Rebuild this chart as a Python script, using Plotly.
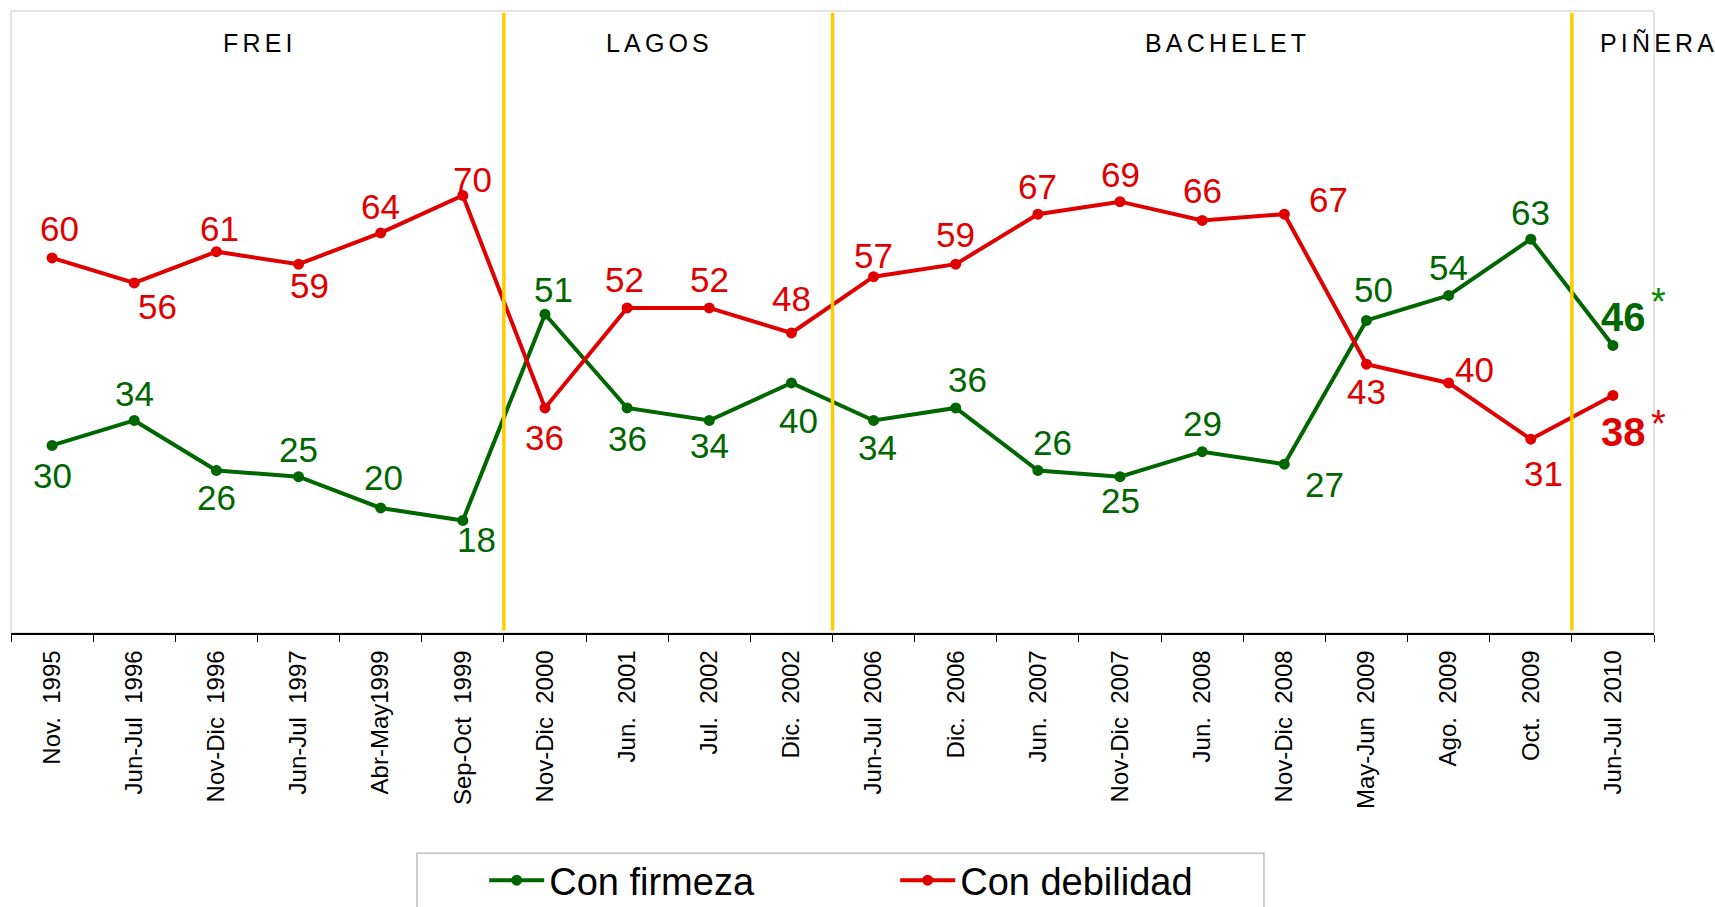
import plotly.graph_objects as go

# ---------------- data ----------------
categories = ["Nov.\u00a0 1995", "Jun-Jul\u00a0 1996", "Nov-Dic\u00a0 1996", "Jun-Jul\u00a0 1997",
              "Abr-May1999", "Sep-Oct\u00a0 1999", "Nov-Dic\u00a0 2000", "Jun.\u00a0 2001",
              "Jul.\u00a0 2002", "Dic.\u00a0 2002", "Jun-Jul\u00a0 2006", "Dic.\u00a0 2006",
              "Jun.\u00a0 2007", "Nov-Dic\u00a0 2007", "Jun.\u00a0 2008", "Nov-Dic\u00a0 2008",
              "May-Jun\u00a0 2009", "Ago.\u00a0 2009", "Oct.\u00a0 2009", "Jun-Jul\u00a0 2010"]
firmeza = [30, 34, 26, 25, 20, 18, 51, 36, 34, 40, 34, 36, 26, 25, 29, 27, 50, 54, 63, 46]
debilidad = [60, 56, 61, 59, 64, 70, 36, 52, 52, 48, 57, 59, 67, 69, 66, 67, 43, 40, 31, 38]
series_names = ["Con firmeza", "Con debilidad"]
periods = ["FREI", "LAGOS", "BACHELET", "PIÑERA"]
period_start_index = [0, 6, 10, 19]   # first survey of each presidency

# ---------------- styles ----------------
GREEN = "#006600"
GREEN_STAR = "#008C00"
RED = "#E00000"
GOLD = "#FFCC00"
FONT = "Liberation Sans, Arial, sans-serif"
SPACER = "\u2006"  # small letter spacing for the period titles

# label offsets in px (dx right, dy down) relative to each point
green_off = [(0, 30), (0, -27), (0, 27), (0, -27), (3, -30), (14, 19), (9, -25), (0, 31),
             (0, 25), (7, 38), (4, 27), (12, -28), (15, -28), (0, 24), (0, -28), (40, 20),
             (7, -31), (0, -28), (0, -27), (11, -28)]
red_off = [(7, -29), (23, 24), (3, -23), (11, 21), (0, -26), (10, -16), (0, 30), (-3, -28),
           (0, -28), (0, -34), (0, -21), (0, -30), (0, -28), (0, -27), (0, -30), (44, -15),
           (0, 27), (26, -13), (13, 34), (11, 37)]
star_off = {"green": (46, -43), "red": (46, 29)}
period_label_x = [2.5, 7.37, 14.28, 19.5]
period_label_shift = [0, 0, 0, 3]

fig = go.Figure()
fig.add_trace(go.Scatter(x=categories, y=firmeza, name=series_names[0], mode="lines+markers",
                         line=dict(color=GREEN, width=4), marker=dict(color=GREEN, size=11),
                         hoverinfo="x+y"))
fig.add_trace(go.Scatter(x=categories, y=debilidad, name=series_names[1], mode="lines+markers",
                         line=dict(color=RED, width=4), marker=dict(color=RED, size=11),
                         hoverinfo="x+y"))

annotations = []
last = len(categories) - 1
for vals, offs, col, key in [(firmeza, green_off, GREEN, "green"), (debilidad, red_off, RED, "red")]:
    for i, (c, v) in enumerate(zip(categories, vals)):
        dx, dy = offs[i]
        is_last = i == last
        txt = f"<b>{v}</b>" if is_last else str(v)
        annotations.append(dict(x=c, y=v, xref="x", yref="y", text=txt, showarrow=False,
                                xanchor="center", yanchor="middle", xshift=dx, yshift=-dy,
                                font=dict(family=FONT, size=40 if is_last else 35, color=col)))
    sx, sy = star_off[key]
    annotations.append(dict(x=categories[last], y=vals[last], xref="x", yref="y", text="*",
                            showarrow=False, xanchor="center", yanchor="middle",
                            xshift=sx, yshift=-sy,
                            font=dict(family=FONT, size=38,
                                      color=GREEN_STAR if key == "green" else RED)))

for name, px, sh in zip(periods, period_label_x, period_label_shift):
    annotations.append(dict(x=px, y=0.948, xref="x", yref="paper", text=SPACER.join(name),
                            showarrow=False, xanchor="center", yanchor="middle", xshift=sh,
                            font=dict(family=FONT, size=25, color="#000000")))

shapes = [dict(type="rect", xref="paper", yref="paper", x0=0, x1=1, y0=0, y1=1,
               line=dict(color="#C8C8C8", width=1), layer="below")]
for s in period_start_index[1:]:
    shapes.append(dict(type="line", xref="x", yref="paper", x0=s - 0.5, x1=s - 0.5,
                       y0=0.004, y1=0.997, line=dict(color=GOLD, width=3.5)))
# legend frame (cut by the bottom edge as in the original)
shapes.append(dict(type="rect", xref="paper", yref="paper", x0=0.2471, x1=0.7626,
                   y0=-0.47, y1=-0.3541, line=dict(color="#BFBFBF", width=1.5)))

fig.update_layout(
    width=1715, height=907,
    margin=dict(l=11, r=61, t=11, b=274, autoexpand=False),
    paper_bgcolor="white", plot_bgcolor="white",
    showlegend=True,
    legend=dict(orientation="h", x=0.288, xanchor="left", yref="container", y=0.0292,
                yanchor="middle",
                font=dict(family=FONT, size=38, color="#000000"),
                bgcolor="rgba(0,0,0,0)", borderwidth=0, itemwidth=55,
                entrywidth=341, entrywidthmode="pixels"),
    annotations=annotations,
    shapes=shapes,
    xaxis=dict(type="category", range=[-0.5, 19.5], showgrid=False, zeroline=False,
               showline=True, linecolor="#000000", linewidth=1.5,
               ticks="outside", tickson="boundaries", ticklen=7, tickcolor="#000000",
               tickwidth=1, tickangle=-90, ticklabelstandoff=6,
               tickfont=dict(family=FONT, size=24, color="#000000")),
    yaxis=dict(range=[0, 99.5], showgrid=False, zeroline=False, showline=False,
               showticklabels=False, ticks=""),
)

fig.write_html("out.html", config={"displayModeBar": False},
               post_script="document.body.style.margin='0';")
